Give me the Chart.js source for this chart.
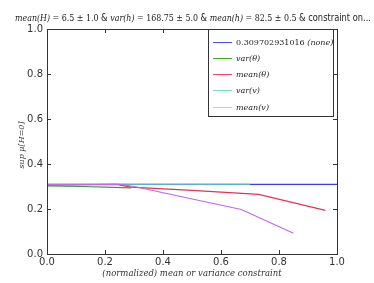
<!DOCTYPE html>
<html>
<head>
<meta charset="utf-8">
<script src="https://cdn.jsdelivr.net/npm/chart.js@4/dist/chart.umd.min.js"></script>
<style>
  html, body { margin: 0; padding: 0; background: #fff; }
  #wrap { width: 374px; height: 283px; }
</style>
</head>
<body>
<div id="wrap"><canvas id="c" width="374" height="283"></canvas></div>
<script>
// series data (x = normalized constraint, y = sup mu[H=0])
const noneLine = [[0, 0.3097], [1.0, 0.3097]];
const varTheta = [[0, 0.303], [0.12, 0.300], [0.2, 0.297], [0.29, 0.294]];
const meanTheta = [[0, 0.306], [0.24, 0.309], [0.29, 0.297], [0.5, 0.283], [0.73, 0.265], [0.96, 0.194]];
const varV = [[0, 0.310], [0.7, 0.310]];
const meanV = [[0, 0.307], [0.25, 0.310], [0.3, 0.300], [0.67, 0.198], [0.85, 0.092]];

const seriesNames = ["0.309702931016 (none)", "var(θ)", "mean(θ)", "var(v)", "mean(v)"];
const seriesData = [noneLine, varTheta, meanTheta, varV, meanV];
const colors = ["#3c3cf0", "#3aa030", "#e03454", "#66d8bc", "#c266ee"];
const legendColors = ["#4a4aee", "#44a828", "#ee4466", "#7adcbc", "#eab4ee"];

const xTicks = [0, 0.2, 0.4, 0.6, 0.8, 1.0];
const yTicks = [0, 0.2, 0.4, 0.6, 0.8, 1.0];

const serif = "'DejaVu Serif', serif";
const sans = "'DejaVu Sans', sans-serif";

// title made of serif-italic math bits and sans text
const titleParts = [
  ["mean(H)", "italic 10px " + serif], [" = 6.5 ± 1.0 ", "10px " + serif], ["& ", "10.5px " + sans],
  ["var(h)", "italic 10px " + serif], [" = 168.75 ± 5.0 ", "10px " + serif], ["& ", "10.5px " + sans],
  ["mean(h)", "italic 10px " + serif], [" = 82.5 ± 0.5 ", "10px " + serif], ["& constraint on...", "10.5px " + sans]
];

const decor = {
  id: "decor",
  afterDraw(chart) {
    const ctx = chart.ctx;
    const a = chart.chartArea;
    const xs = chart.scales.x, ys = chart.scales.y;
    ctx.save();
    // frame
    ctx.strokeStyle = "#333";
    ctx.lineWidth = 1;
    ctx.strokeRect(Math.round(a.left) + 0.5, Math.round(a.top) + 0.5, Math.round(a.right - a.left), Math.round(a.bottom - a.top));
    // inward ticks on all sides
    ctx.beginPath();
    xTicks.forEach(v => {
      const px = Math.round(xs.getPixelForValue(v)) + 0.5;
      ctx.moveTo(px, a.bottom); ctx.lineTo(px, a.bottom - 4);
      ctx.moveTo(px, a.top); ctx.lineTo(px, a.top + 4);
    });
    yTicks.forEach(v => {
      const py = Math.round(ys.getPixelForValue(v)) + 0.5;
      ctx.moveTo(a.left, py); ctx.lineTo(a.left + 4, py);
      ctx.moveTo(a.right, py); ctx.lineTo(a.right - 4, py);
    });
    ctx.stroke();

    // title, squeezed to the reference width
    ctx.fillStyle = "#222";
    ctx.textBaseline = "alphabetic";
    ctx.textAlign = "left";
    let w = 0;
    titleParts.forEach(p => { ctx.font = p[1]; w += ctx.measureText(p[0]).width; });
    const target = 356;
    ctx.save();
    ctx.translate(15, 21);
    ctx.scale(target / w, 1);
    let tx = 0;
    titleParts.forEach(p => { ctx.font = p[1]; ctx.fillText(p[0], tx, 0); tx += ctx.measureText(p[0]).width; });
    ctx.restore();

    // axis titles
    ctx.fillStyle = "#333";
    ctx.font = "italic 8.5px " + serif;
    ctx.textAlign = "center";
    ctx.fillText("(normalized) mean or variance constraint", 192, 276);
    ctx.save();
    ctx.translate(24, 145);
    ctx.rotate(-Math.PI / 2);
    ctx.font = "italic 8px " + serif;
    ctx.fillText("sup μ[H=0]", 0, 0);
    ctx.restore();

    // legend box
    const lx = 208, ly = 29, lw = 125, lh = 87;
    ctx.fillStyle = "#fff";
    ctx.fillRect(lx, ly, lw, lh);
    ctx.strokeStyle = "#333";
    ctx.strokeRect(lx + 0.5, ly + 0.5, lw, lh);
    ctx.textAlign = "left";
    ctx.textBaseline = "middle";
    seriesNames.forEach((name, i) => {
      const y = Math.round(ly + 12.5 + i * 16.3) + 0.5;
      ctx.strokeStyle = legendColors[i];
      ctx.beginPath();
      ctx.moveTo(lx + 5, y); ctx.lineTo(lx + 24, y);
      ctx.stroke();
      ctx.fillStyle = "#222";
      if (i === 0) {
        ctx.font = "8px " + serif;
        ctx.fillText("0.309702931016 ", lx + 28, y);
        const ww = ctx.measureText("0.309702931016 ").width;
        ctx.font = "italic 8px " + serif;
        ctx.fillText("(none)", lx + 28 + ww, y);
      } else {
        ctx.font = "italic 8px " + serif;
        ctx.fillText(name, lx + 28, y);
      }
    });
    ctx.restore();
  }
};

new Chart(document.getElementById("c"), {
  type: "line",
  data: {
    datasets: seriesData.map((d, i) => ({
      label: seriesNames[i],
      data: d.map(p => ({ x: p[0], y: p[1] })),
      borderColor: colors[i],
      backgroundColor: colors[i],
      borderWidth: 1.2,
      pointRadius: 0,
      fill: false,
      tension: 0,
      order: 5 - i
    }))
  },
  options: {
    responsive: false,
    animation: false,
    layout: { padding: { left: 0, right: 37, top: 29, bottom: 0 } },
    plugins: { legend: { display: false }, title: { display: false }, tooltip: { enabled: false } },
    scales: {
      x: {
        type: "linear", min: 0, max: 1,
        afterBuildTicks: s => { s.ticks = xTicks.map(v => ({ value: v })); },
        afterFit: s => { s.height = 29; },
        grid: { display: false, drawTicks: false },
        border: { display: false },
        ticks: { color: "#333", font: { family: sans, size: 10 }, padding: 2, maxRotation: 0, callback: v => v.toFixed(1) }
      },
      y: {
        type: "linear", min: 0, max: 1,
        afterBuildTicks: s => { s.ticks = yTicks.map(v => ({ value: v })); },
        afterFit: s => { s.width = 47; },
        grid: { display: false, drawTicks: false },
        border: { display: false },
        ticks: { color: "#333", font: { family: sans, size: 10 }, padding: 4, callback: v => v.toFixed(1) }
      }
    }
  },
  plugins: [decor]
});
</script>
</body>
</html>
